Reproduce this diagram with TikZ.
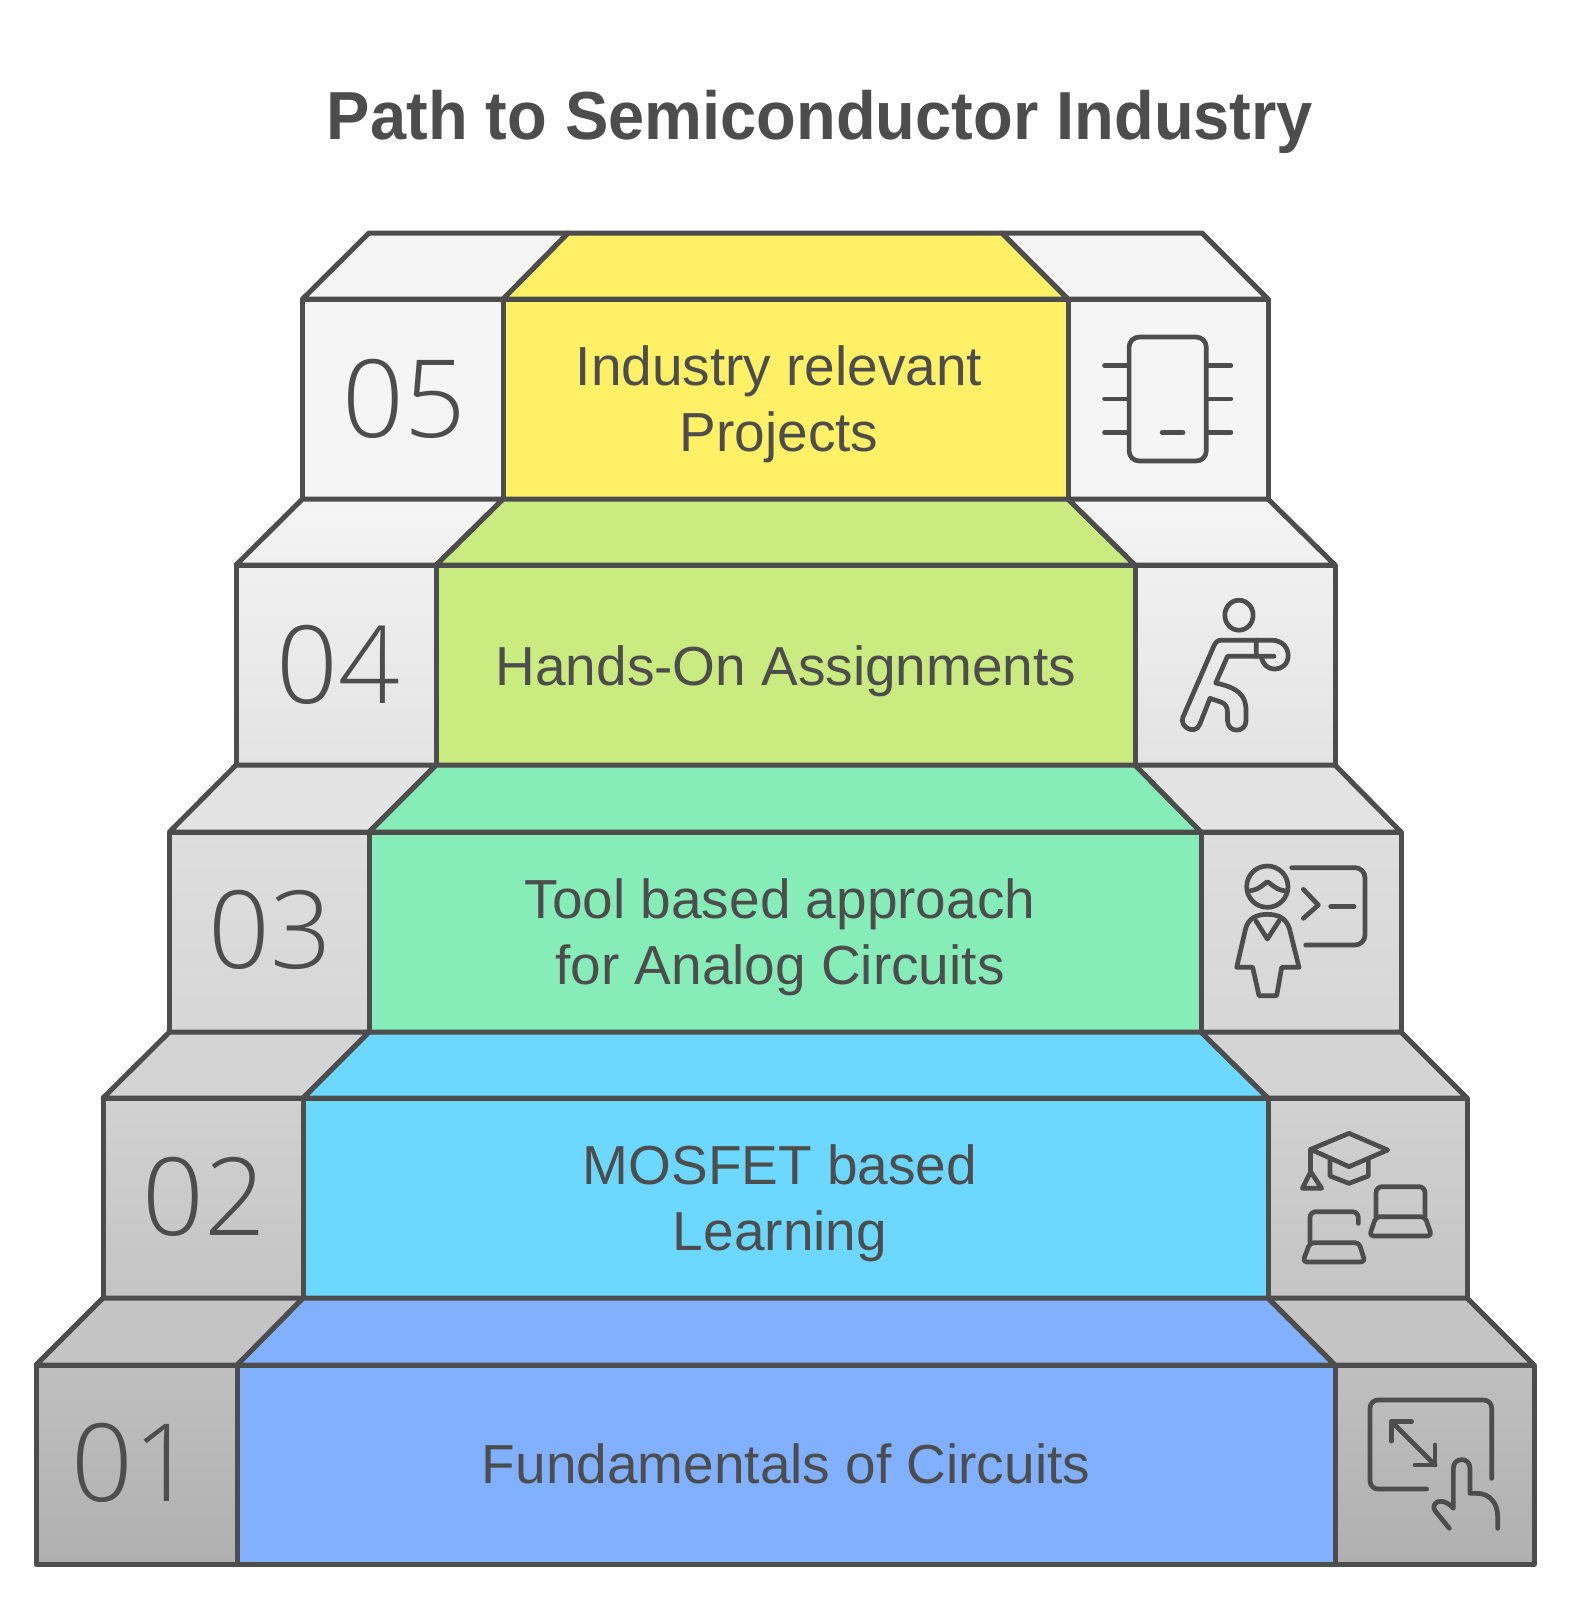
\documentclass[tikz,border=0pt]{standalone}
\usepackage{xcolor}
\usepackage{fontspec}
\setmainfont{Liberation Sans}
\newfontfamily\titlefont[FakeStretch=0.956]{Liberation Sans}
\newfontfamily\numfont{Open Sans Light}
\usepackage{tikz}
\definecolor{inkgray}{HTML}{4D4D4D}
\definecolor{stepyellow}{HTML}{FFF066}
\definecolor{stepgreen}{HTML}{CAEB80}
\definecolor{stepmint}{HTML}{87EDB8}
\definecolor{stepcyan}{HTML}{6DD8FF}
\definecolor{stepblue}{HTML}{80B0FF}
\tikzset{
  edge/.style={draw=inkgray,line width=2.5pt,line join=round},
  icon/.style={draw=inkgray,line width=2.35pt,line join=round,line cap=round},
  steplabel/.style={text=inkgray,font=\fontsize{27.5}{33}\selectfont,align=center},
  stepnum/.style={text=inkgray,font=\numfont\fontsize{54}{54}\selectfont}
}

\begin{document}
\begin{tikzpicture}[x=0.5pt,y=-0.5pt]
  \useasboundingbox (0,0) rectangle (1570,1600);
  \fill[white] (0,0) rectangle (1570,1600);
  \node[text=inkgray,font=\titlefont\fontsize{34}{40}\selectfont\bfseries] (title) at (820,122) {Path to Semiconductor Industry};
  % Step 05
  \draw[edge,fill=stepyellow] (568,233) -- (1002,233) -- (1068,299) -- (503,299) -- cycle;
  \draw[edge,fill=stepyellow] (503,299) rectangle (1068,499);
  \draw[edge,fill=black!4] (369,233) -- (568,233) -- (503,299) -- (302.5,299) -- cycle;
  \draw[edge,fill=black!4] (302.5,299) rectangle (503,499);
  \draw[edge,fill=black!4] (1002,233) -- (1202,233) -- (1268,299) -- (1068,299) -- cycle;
  \draw[edge,fill=black!4] (1068,299) rectangle (1268,499);
  % Step 04
  \draw[edge,fill=stepgreen] (503,499) -- (1068,499) -- (1135,565) -- (436,565) -- cycle;
  \draw[edge,fill=stepgreen] (436,565) rectangle (1135,765);
  \draw[edge,top color=black!4,bottom color=black!6] (302.5,499) -- (503,499) -- (436,565) -- (236,565) -- cycle;
  \draw[edge,top color=black!6,bottom color=black!11] (236,565) rectangle (436,765);
  \draw[edge,top color=black!4,bottom color=black!6] (1068,499) -- (1268,499) -- (1335,565) -- (1135,565) -- cycle;
  \draw[edge,top color=black!6,bottom color=black!11] (1135,565) rectangle (1335,765);
  % Step 03
  \draw[edge,fill=stepmint] (436,765) -- (1135,765) -- (1201,832) -- (369,832) -- cycle;
  \draw[edge,fill=stepmint] (369,832) rectangle (1201,1032);
  \draw[edge,fill=black!11] (236,765) -- (436,765) -- (369,832) -- (169.5,832) -- cycle;
  \draw[edge,top color=black!13,bottom color=black!16] (169.5,832) rectangle (369,1032);
  \draw[edge,fill=black!11] (1135,765) -- (1335,765) -- (1401,832) -- (1201,832) -- cycle;
  \draw[edge,top color=black!13,bottom color=black!16] (1201,832) rectangle (1401,1032);
  % Step 02
  \draw[edge,fill=stepcyan] (369,1032) -- (1201,1032) -- (1268,1098) -- (303,1098) -- cycle;
  \draw[edge,fill=stepcyan] (303,1098) rectangle (1268,1298);
  \draw[edge,fill=black!17] (169.5,1032) -- (369,1032) -- (303,1098) -- (103,1098) -- cycle;
  \draw[edge,top color=black!18,bottom color=black!23] (103,1098) rectangle (303,1298);
  \draw[edge,fill=black!17] (1201,1032) -- (1401,1032) -- (1467,1098) -- (1268,1098) -- cycle;
  \draw[edge,top color=black!18,bottom color=black!23] (1268,1098) rectangle (1467,1298);
  % Step 01
  \draw[edge,fill=stepblue] (303,1298) -- (1268,1298) -- (1335,1365) -- (237,1365) -- cycle;
  \draw[edge,fill=stepblue] (237,1365) rectangle (1335,1564);
  \draw[edge,fill=black!23] (103,1298) -- (303,1298) -- (237,1365) -- (36,1365) -- cycle;
  \draw[edge,top color=black!25,bottom color=black!31] (36,1365) rectangle (237,1564);
  \draw[edge,fill=black!23] (1268,1298) -- (1467,1298) -- (1534,1365) -- (1335,1365) -- cycle;
  \draw[edge,top color=black!25,bottom color=black!31] (1335,1365) rectangle (1534,1564);
  % Numbers
  \node[stepnum] (num05) at (404,399) {05};
  \node[stepnum] (num04) at (338,665) {04};
  \node[stepnum] (num03) at (270,930) {03};
  \node[stepnum] (num02) at (204,1197) {02};
  \node[stepnum] (num01) at (133,1463) {01};
  % Labels
  \node[steplabel] (label05) at (779,404) {Industry relevant\\Projects};
  \node[steplabel] (label04) at (786,671) {Hands-On Assignments};
  \node[steplabel] (label03) at (780,937) {Tool based approach\\for Analog Circuits};
  \node[steplabel] (label02) at (780,1203) {MOSFET based\\Learning};
  \node[steplabel] (label01) at (786,1464) {Fundamentals of Circuits};
  % Chip
  \begin{scope}[shift={(1059,220)},xscale=0.337,yscale=0.357]
    \draw[icon,rounded corners=5pt] (208,328) rectangle (437,675);
    \draw[icon] (135,408) -- (205,408) (135,501) -- (205,501) (135,595) -- (205,595);
    \draw[icon] (440,408) -- (510,408) (440,501) -- (510,501) (440,595) -- (510,595);
    \draw[icon] (306,595) -- (368,595);
    % Boxer
    \draw[icon] (534,1107) ellipse (42 and 42);
    \draw[icon] (585,1177) -- (482,1177) .. controls (470,1177) and (465,1183) .. (460,1192) -- (368,1392) .. controls (355,1420) and (405,1445) .. (418,1412) -- (448,1340) -- (480,1350) .. controls (495,1355) and (500,1365) .. (500,1380) -- (500,1402) .. controls (500,1438) and (555,1438) .. (555,1402) -- (555,1375) .. controls (555,1330) and (530,1310) .. (465,1297) -- (500,1222) -- (638,1222);
    \draw[icon] (585,1222) -- (585,1177) -- (630,1177) .. controls (665,1177) and (680,1200) .. (680,1220) .. controls (680,1245) and (660,1258) .. (640,1258) .. controls (620,1258) and (605,1245) .. (600,1225);
  \end{scope}
  \begin{scope}[shift={(1180,820)},scale=1/3]
    % Teacher
    \draw[icon] (262,200) circle (62);
    \draw[icon] (212,212) .. controls (240,208) and (250,192) .. (262,185) .. controls (275,192) and (285,208) .. (312,212);
    \draw[icon] (262,283) .. controls (230,283) and (205,295) .. (197,325) -- (170,442) -- (218,442) -- (237,527) -- (290,527) -- (305,442) -- (357,442) -- (328,325) .. controls (318,295) and (295,283) .. (262,283) -- cycle;
    \draw[icon] (228,303) -- (262,357) -- (297,303);
    \draw[icon,rounded corners=5pt] (335,143) -- (555,143) -- (555,375) -- (377,375);
    \draw[icon] (370,208) -- (415,255) -- (370,295);
    \draw[icon] (452,260) -- (522,260);
    % Cap and laptops
    \draw[icon] (392,988) -- (507,940) -- (623,990) -- (507,1040) -- cycle;
    \draw[icon] (450,1020) -- (450,1068) -- (507,1090) -- (565,1068) -- (565,1018);
    \draw[icon] (392,988) -- (392,1050);
    \draw[icon] (392,1055) -- (367,1105) -- (425,1105) -- cycle;
    \draw[icon,rounded corners=3pt] (588,1190) -- (588,1100) -- (735,1100) -- (735,1190);
    \draw[icon,rounded corners=2pt] (588,1190) -- (735,1190) -- (755,1248) -- (568,1248) -- cycle;
    \draw[icon,rounded corners=3pt] (390,1268) -- (390,1175) -- (535,1175) -- (535,1210);
    \draw[icon,rounded corners=2pt] (390,1268) -- (537,1268) -- (555,1326) -- (368,1326) -- cycle;
  \end{scope}
  % Expand and tap
  \begin{scope}[shift={(1260,1340)},scale=1/3]
    \draw[icon,rounded corners=4pt] (695,415) -- (695,180) -- (330,180) -- (330,447) -- (500,447);
    \draw[icon] (395,245) -- (525,375);
    \draw[icon] (395,303) -- (395,245) -- (455,245);
    \draw[icon] (525,315) -- (525,375) -- (465,375);
    \draw[icon] (568,565) -- (525,512) .. controls (510,490) and (545,465) .. (580,505) -- (580,385) .. controls (580,350) and (630,350) .. (630,385) -- (630,460) -- (650,460) .. controls (690,460) and (713,490) .. (713,530) -- (713,565);
  \end{scope}
\end{tikzpicture}
\end{document}
